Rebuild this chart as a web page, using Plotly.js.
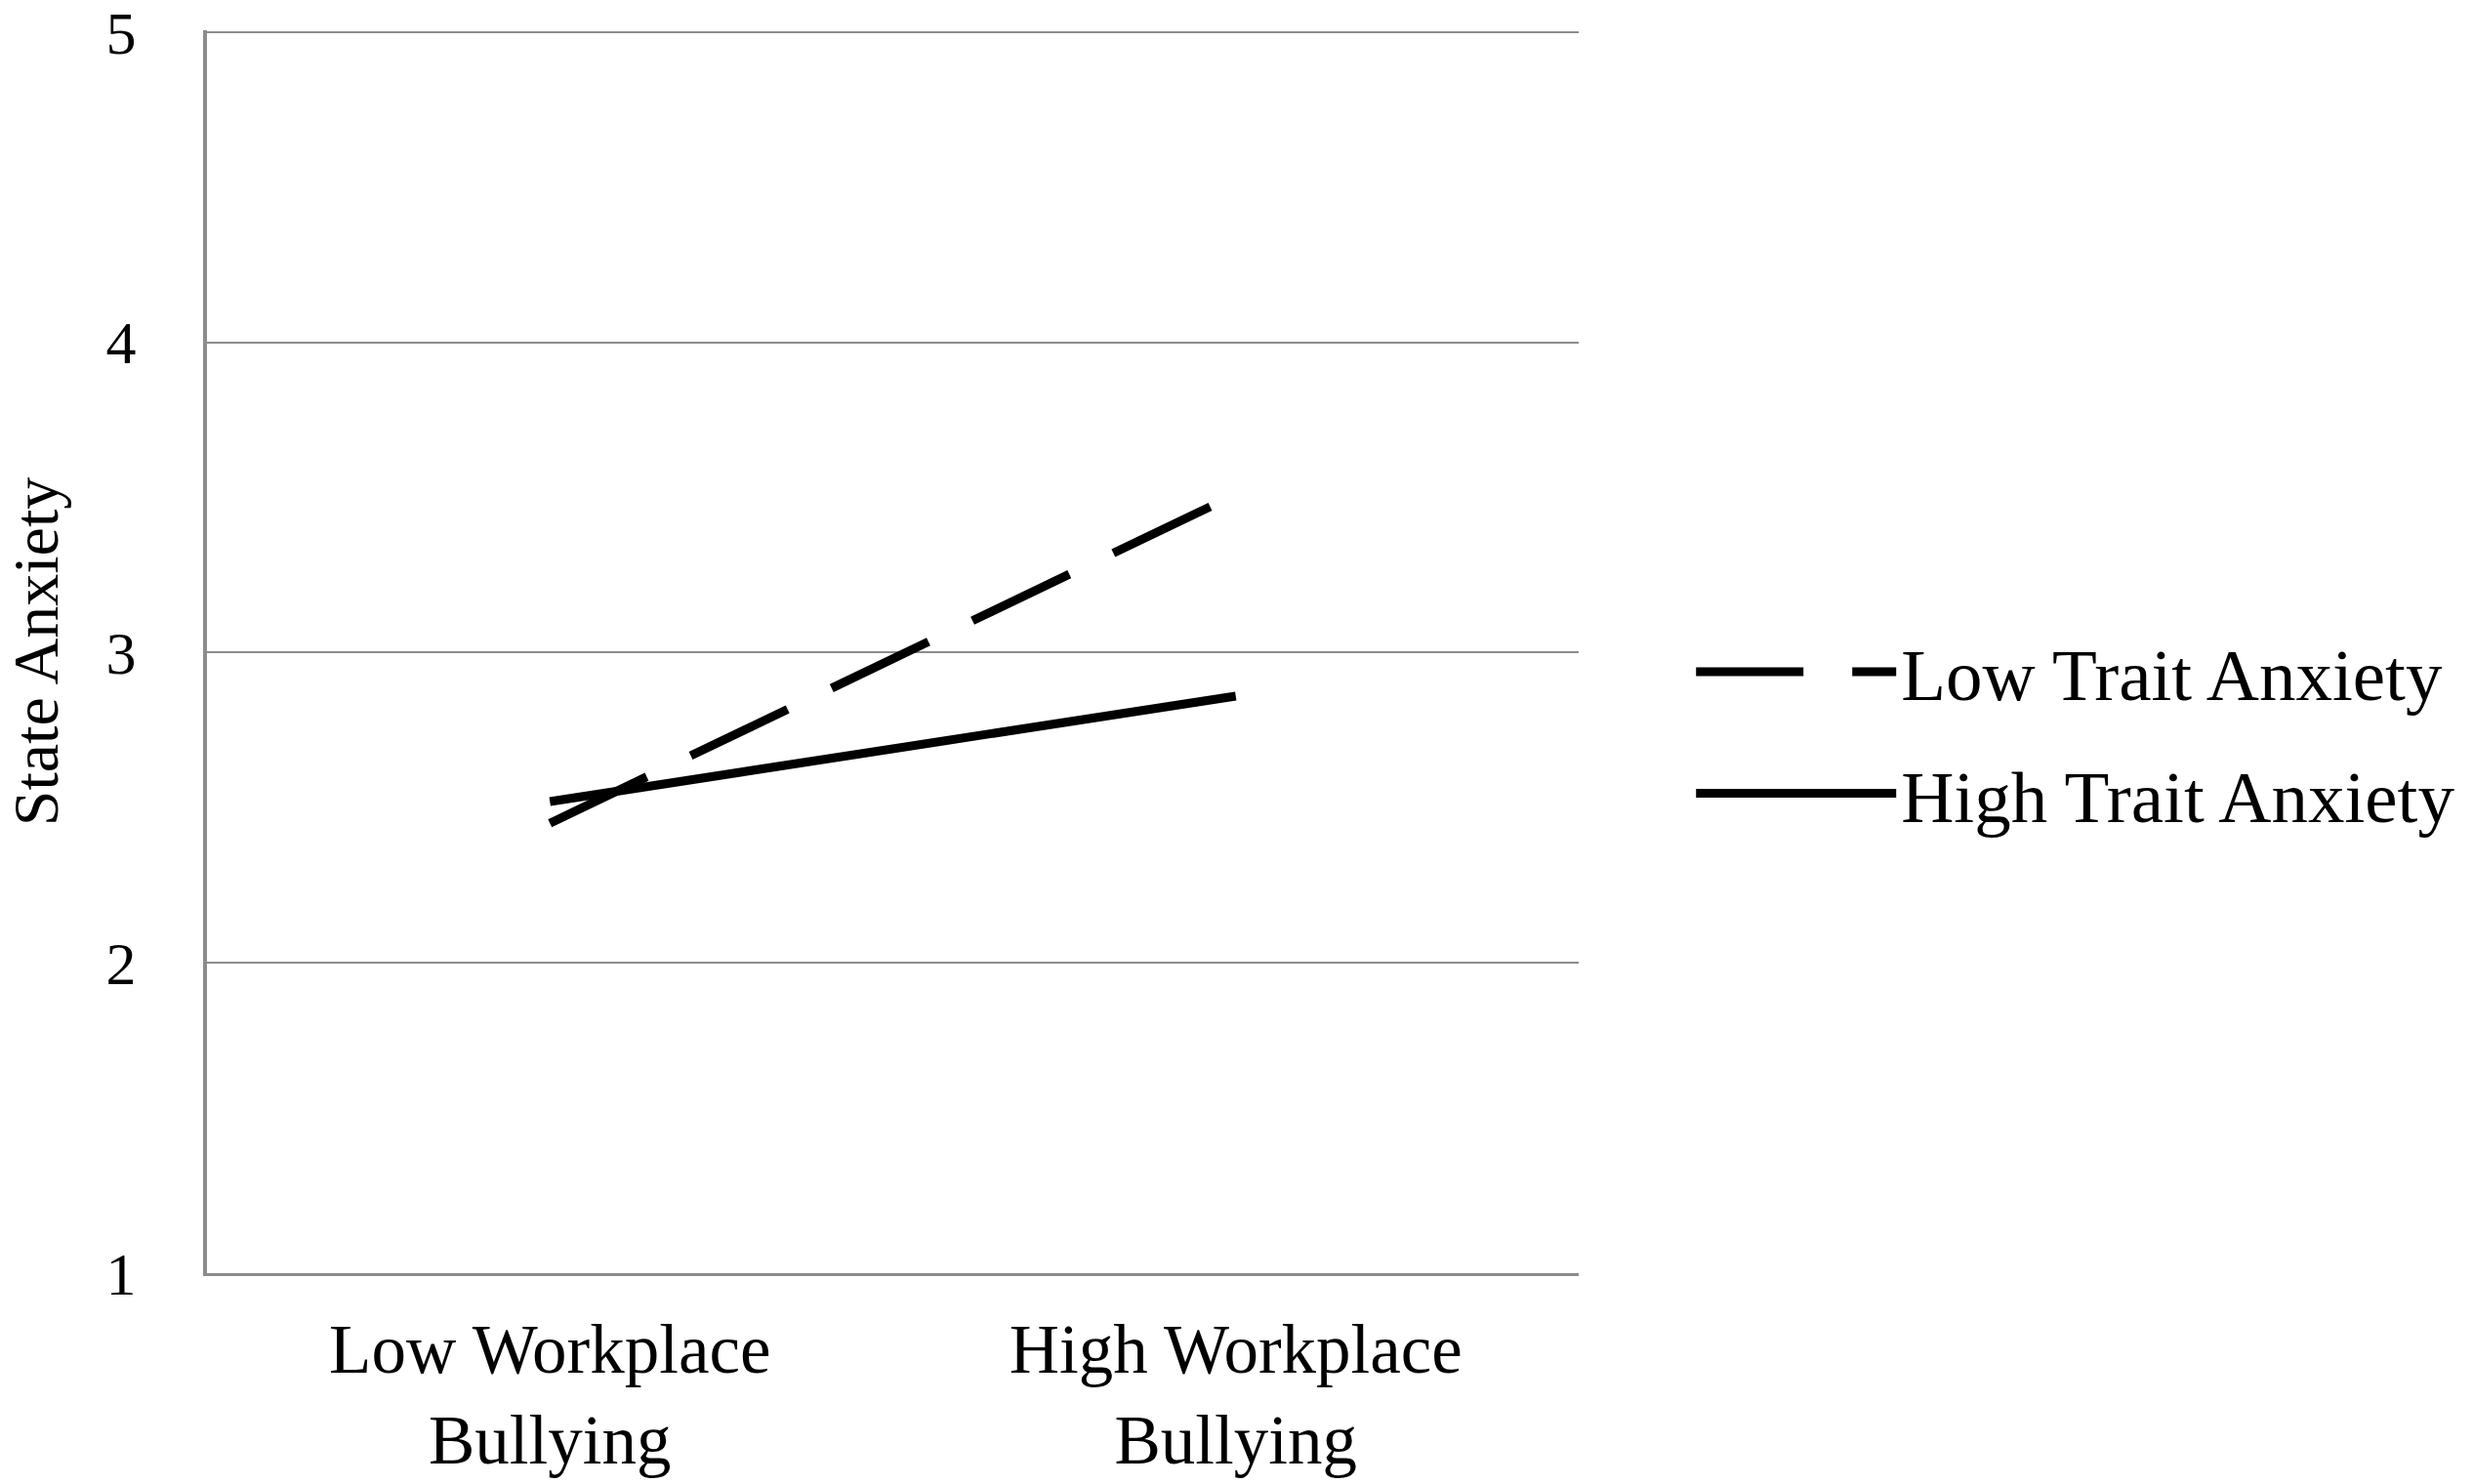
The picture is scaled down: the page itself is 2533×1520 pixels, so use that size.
<!DOCTYPE html>
<html>
<head>
<meta charset="utf-8">
<script src="https://cdn.plot.ly/plotly-3.0.1.min.js"></script>
<style>
  html, body { margin: 0; padding: 0; background: #fff; }
  #plot { width: 2533px; height: 1520px; }
</style>
</head>
<body>
<div id="plot"></div>
<script>
const categories = ["Low Workplace<br>Bullying", "High Workplace<br>Bullying"];
const lowTrait = [2.45, 3.51];
const highTrait = [2.52, 2.86];
const seriesNames = ["Low Trait Anxiety", "High Trait Anxiety"];

const serif = "Liberation Serif, Times New Roman, serif";

let traces = [
	{
		type: "scatter",
		mode: "lines",
		x: categories,
		y: lowTrait,
		name: seriesNames[0],
		legendgroup: "a",
		line: { color: "#000", width: 9, dash: "110px,50px" }
	},
	{
		type: "scatter",
		mode: "lines",
		x: categories,
		y: highTrait,
		name: seriesNames[1],
		legendgroup: "b",
		line: { color: "#000", width: 9 }
	}
];

let layout = {
	width: 2533,
	height: 1520,
	margin: { l: 212, r: 916, t: 31, b: 216, autoexpand: false },
	paper_bgcolor: "#fff",
	plot_bgcolor: "#fff",
	font: { family: serif, color: "#000" },
	showlegend: true,
	legend: {
		x: 1.082,
		xanchor: "left",
		y: 0.435,
		yanchor: "middle",
		font: { family: serif, size: 75, color: "#000" },
		itemwidth: 205,
		tracegroupgap: 24,
		traceorder: "grouped",
		bgcolor: "rgba(0,0,0,0)"
	},
	xaxis: {
		type: "category",
		range: [-0.5, 1.5],
		showgrid: false,
		showline: true,
		linecolor: "#8c8c8c",
		linewidth: 3,
		ticks: "",
		tickfont: { family: serif, size: 71, color: "#000" },
		ticklabelstandoff: 14,
		ticklabeloverflow: "allow",
		zeroline: false
	},
	yaxis: {
		range: [1, 5.006],
		tickvals: [1, 2, 3, 4, 5],
		showgrid: true,
		gridcolor: "#8c8c8c",
		gridwidth: 2,
		showline: true,
		linecolor: "#8c8c8c",
		linewidth: 4,
		ticks: "",
		zeroline: false,
		tickfont: { family: serif, size: 62, color: "#000" },
		ticklabelstandoff: 56,
		ticklabeloverflow: "allow",
		title: {
			text: "State Anxiety",
			font: { family: serif, size: 66, color: "#000" },
			standoff: 40
		}
	}
};

Plotly.newPlot("plot", traces, layout, { staticPlot: true });
</script>
</body>
</html>
